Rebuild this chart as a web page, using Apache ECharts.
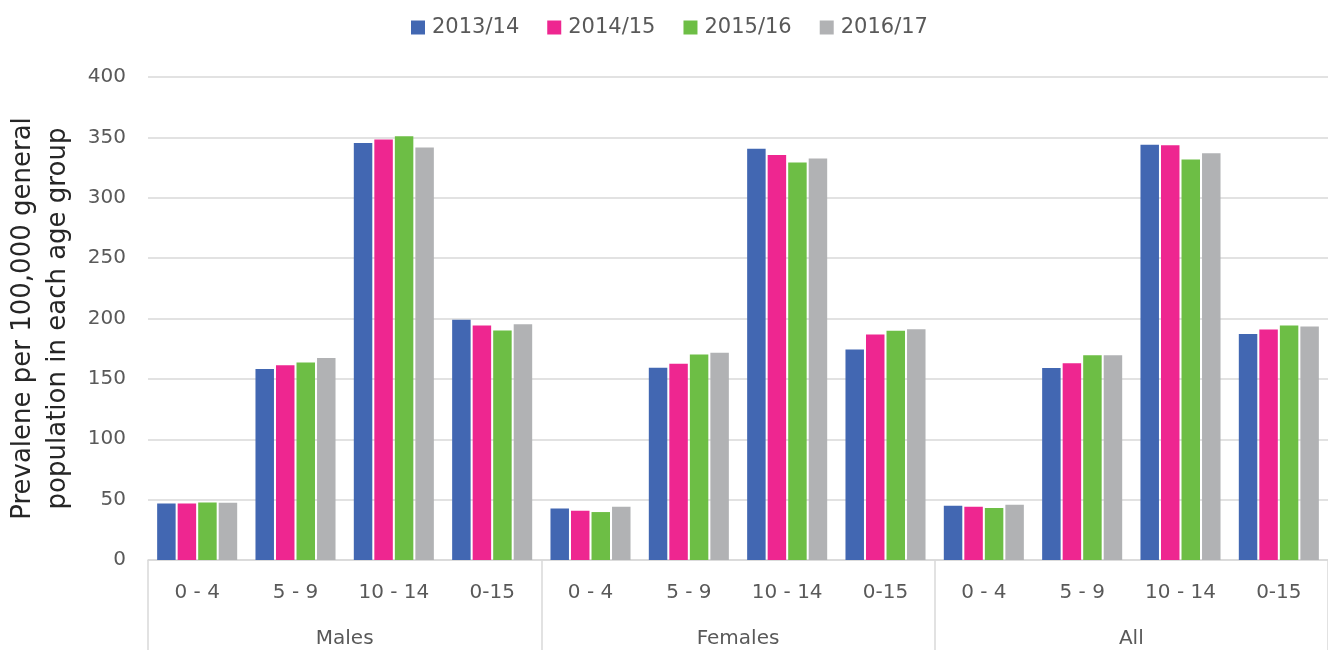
<!DOCTYPE html>
<html>
<head>
<meta charset="utf-8">
<script src="https://cdn.jsdelivr.net/npm/echarts@6/dist/echarts.min.js"></script>
<style>html,body{margin:0;padding:0;background:#fff;}#c{width:1328px;height:650px;}</style>
</head>
<body>
<div id="c"></div>
<script>
const ageGroups = ['0 - 4','5 - 9','10 - 14','0-15','0 - 4','5 - 9','10 - 14','0-15','0 - 4','5 - 9','10 - 14','0-15'];
const sexGroups = ['Males','Females','All'];
const seriesNames = ['2013/14','2014/15','2015/16','2016/17'];
const v2013 = [46.8,158.2,345.4,198.9, 42.7,159.3,340.5,174.4, 44.9,159.0,343.8,187.1];
const v2014 = [46.8,161.2,348.2,194.2, 40.8,162.6,335.5,186.8, 44.1,162.9,343.5,190.9];
const v2015 = [47.7,163.5,350.9,190.1, 39.7,170.1,329.2,189.9, 43.0,169.5,331.7,194.2];
const v2016 = [47.4,167.3,341.6,195.3, 44.1,171.7,332.5,191.2, 45.8,169.5,336.9,193.4];
const yTicks = {min:0, max:400, interval:50};
const colors = ['#4267B2','#EE2690','#6DBE45','#B1B2B4'];
const values = [v2013, v2014, v2015, v2016];
const FONT = 'DejaVu Sans';

const chart = echarts.init(document.getElementById('c'), null, {renderer:'canvas'});
chart.setOption({
  animation:false,
  textStyle:{fontFamily:FONT},
  legend:{
    top:12, left:406,
    itemWidth:14, itemHeight:14, itemGap:28,
    icon:'rect',
    textStyle:{fontSize:21, color:'#595959', fontFamily:FONT, padding:[0,0,0,2]}
  },
  grid:{left:148, right:0, top:77, bottom:90, containLabel:false, outerBoundsMode:'none'},
  xAxis:[{
    type:'category', data:ageGroups, position:'bottom',
    axisLine:{show:true, lineStyle:{color:'#d9d9d9', width:1.5}},
    axisTick:{show:false},
    axisLabel:{interval:0, fontSize:20, color:'#595959', margin:23, fontFamily:FONT}
  },{
    type:'category', data:sexGroups, position:'bottom', offset:0,
    axisLine:{show:false},
    axisTick:{show:true, length:90, interval:0, lineStyle:{color:'#d9d9d9', width:1.5}},
    axisLabel:{interval:0, fontSize:20, color:'#595959', margin:69, fontFamily:FONT}
  }],
  yAxis:{
    type:'value', min:yTicks.min, max:yTicks.max, interval:yTicks.interval,
    name:'Prevalene per 100,000 general\npopulation in each age group',
    nameLocation:'middle', nameGap:72, nameMoveOverlap:false,
    nameTextStyle:{fontSize:26, color:'#262626', lineHeight:35, fontFamily:FONT},
    axisLine:{show:false}, axisTick:{show:false},
    axisLabel:{fontSize:20, color:'#595959', margin:22, fontFamily:FONT},
    splitLine:{lineStyle:{color:'#d9d9d9', width:1.5}}
  },
  series: seriesNames.map((n,i)=>({
    name:n, type:'bar', xAxisIndex:0, data:values[i],
    itemStyle:{color:colors[i]},
    barCategoryGap:'18.6%', barGap:'11%'
  }))
});
</script>
</body>
</html>
